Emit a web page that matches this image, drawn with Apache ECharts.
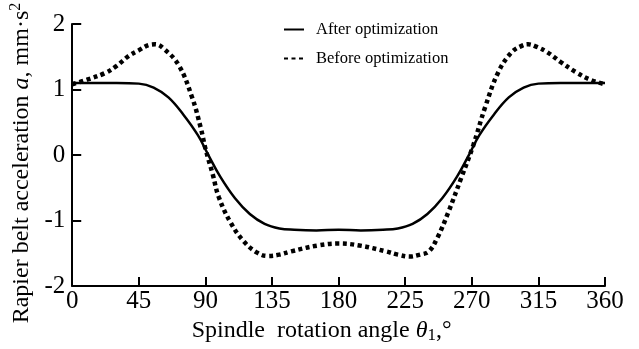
<!DOCTYPE html>
<html>
<head>
<meta charset="utf-8">
<script src="https://cdn.jsdelivr.net/npm/echarts@6/dist/echarts.min.js"></script>
<style>
html,body{margin:0;padding:0;background:#fff;}
#c{width:639px;height:349px;}
</style>
</head>
<body>
<div id="c"></div>
<script>
// Spindle rotation angle (deg) and acceleration values
var thetaAfter = [0, 15, 30, 45, 55, 65, 75, 85, 92, 100, 110, 120, 130, 140, 150, 165, 180, 195, 210, 220, 230, 240, 250, 260, 268, 275, 285, 295, 305, 315, 330, 345, 360];
var accelAfter = [1.1, 1.1, 1.1, 1.09, 1.03, 0.88, 0.62, 0.3, 0, -0.33, -0.66, -0.9, -1.05, -1.12, -1.14, -1.15, -1.14, -1.15, -1.14, -1.12, -1.05, -0.9, -0.66, -0.33, 0, 0.3, 0.62, 0.88, 1.03, 1.09, 1.1, 1.1, 1.1];

var thetaBefore = [0, 10, 22, 30, 38, 45, 52, 56, 62, 72, 81, 87, 90, 95, 99, 107, 116, 125, 132, 140, 148, 166, 180, 194, 212, 220, 228, 235, 241, 247, 254, 263, 271, 279, 288, 297, 304, 308, 314, 321, 330, 340, 350, 360];
var accelBefore = [1.08, 1.15, 1.25, 1.36, 1.51, 1.6, 1.68, 1.69, 1.62, 1.37, 0.88, 0.4, 0.1, -0.3, -0.64, -1.03, -1.32, -1.49, -1.54, -1.52, -1.47, -1.38, -1.35, -1.38, -1.47, -1.52, -1.55, -1.52, -1.47, -1.25, -0.88, -0.34, 0.15, 0.73, 1.27, 1.57, 1.67, 1.69, 1.65, 1.57, 1.42, 1.27, 1.15, 1.08];

var seriesNames = ['After optimization', 'Before optimization'];
var xTickValues = [0, 45, 90, 135, 180, 225, 270, 315, 360];
var yTickValues = [-2, -1, 0, 1, 2];

function pairs(xs, ys) { return xs.map(function (x, i) { return [x, ys[i]]; }); }

var font = 'Liberation Serif, Times New Roman, serif';
var chart = echarts.init(document.getElementById('c'), null, {renderer: 'canvas'});
chart.setOption({
  animation: false,
  backgroundColor: '#fff',
  textStyle: {fontFamily: font, color: '#000'},
  grid: {left: 71, right: 34, top: 24, bottom: 53, containLabel: false},
  legend: {
    orient: 'vertical',
    left: 283,
    top: 21,
    padding: 0,
    itemWidth: 20,
    itemHeight: 14,
    itemGap: 12,
    itemStyle: {opacity: 0},
    textStyle: {fontFamily: font, fontSize: 16.5, color: '#000', padding: [0, 0, 0, 7]},
    data: seriesNames
  },
  xAxis: {
    type: 'value',
    min: xTickValues[0],
    max: xTickValues[xTickValues.length - 1],
    interval: 45,
    axisLine: {show: true, onZero: false, lineStyle: {color: '#000', width: 2}},
    axisTick: {show: true, inside: true, length: 9, lineStyle: {color: '#000', width: 2}},
    axisLabel: {fontFamily: font, fontSize: 25, color: '#000', margin: 3},
    splitLine: {show: false},
    name: '{n|Spindle  rotation angle }{i|θ}{s|1}{n|,°}',
    nameLocation: 'middle',
    nameGap: 26,
    nameTextStyle: {
      padding: [0, 34, 0, 0],
      rich: {
        n: {fontFamily: font, fontSize: 24, color: '#000'},
        i: {fontFamily: font, fontSize: 24, fontStyle: 'italic', color: '#000'},
        s: {fontFamily: font, fontSize: 17, color: '#000', padding: [9, 0, 0, 0]}
      }
    }
  },
  yAxis: {
    type: 'value',
    min: yTickValues[0],
    max: yTickValues[yTickValues.length - 1],
    interval: 1,
    axisLine: {show: true, onZero: false, lineStyle: {color: '#000', width: 2}},
    axisTick: {show: true, inside: true, length: 9, lineStyle: {color: '#000', width: 2}},
    axisLabel: {fontFamily: font, fontSize: 25, color: '#000', margin: 7},
    splitLine: {show: false},
    name: '{n|Rapier belt acceleration }{i|a}{n|, mm·s}{s|2}',
    nameLocation: 'middle',
    nameRotate: 90,
    nameGap: 34,
    nameTextStyle: {
      padding: [0, 16, 0, 0],
      rich: {
        n: {fontFamily: font, fontSize: 24, color: '#000'},
        i: {fontFamily: font, fontSize: 24, fontStyle: 'italic', color: '#000'},
        s: {fontFamily: font, fontSize: 16, color: '#000', padding: [0, 0, 11, 0]}
      }
    }
  },
  series: [
    {
      name: seriesNames[0],
      type: 'line',
      data: pairs(thetaAfter, accelAfter),
      smooth: 0.4,
      symbol: 'none',
      color: '#000',
      lineStyle: {color: '#000', width: 2.5}
    },
    {
      name: seriesNames[1],
      type: 'line',
      data: pairs(thetaBefore, accelBefore),
      smooth: 0.4,
      symbol: 'none',
      color: '#000',
      lineStyle: {color: '#000', width: 4.5, type: [4, 3.5], cap: 'butt'}
    }
  ]
});
</script>
</body>
</html>
